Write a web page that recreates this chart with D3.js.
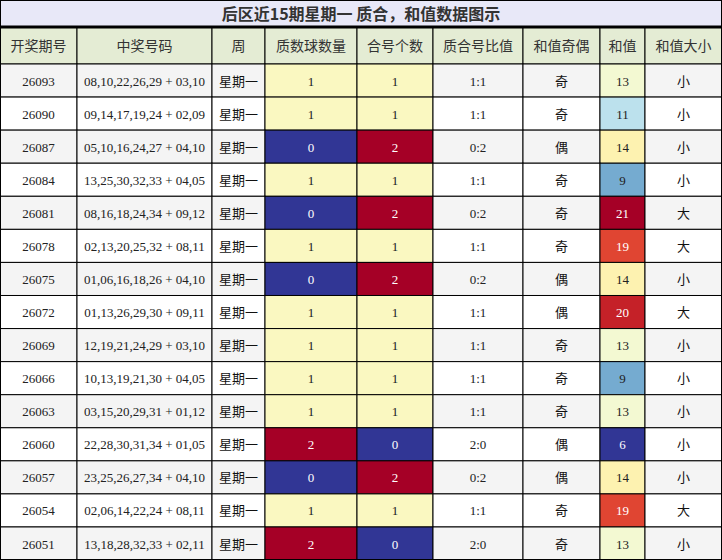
<!DOCTYPE html>
<html><head><meta charset="utf-8">
<script src="https://cdn.jsdelivr.net/npm/d3@7"></script>
<style>body{margin:0;background:#fff}</style>
</head><body><svg id="chart" width="722" height="560"></svg>
<script>
const title = "后区近15期星期一 质合，和值数据图示"
const headers = ["开奖期号","中奖号码","周","质数球数量","合号个数","质合号比值","和值奇偶","和值","和值大小"]
const issues = ["26093","26090","26087","26084","26081","26078","26075","26072","26069","26066","26063","26060","26057","26054","26051"]
const numbers = ["08,10,22,26,29 + 03,10","09,14,17,19,24 + 02,09","05,10,16,24,27 + 04,10","13,25,30,32,33 + 04,05","08,16,18,24,34 + 09,12","02,13,20,25,32 + 08,11","01,06,16,18,26 + 04,10","01,13,26,29,30 + 09,11","12,19,21,24,29 + 03,10","10,13,19,21,30 + 04,05","03,15,20,29,31 + 01,12","22,28,30,31,34 + 01,05","23,25,26,27,34 + 04,10","02,06,14,22,24 + 08,11","13,18,28,32,33 + 02,11"]
const primes = [1,1,0,1,0,1,0,1,1,1,1,2,0,1,2]
const composites = [1,1,2,1,2,1,2,1,1,1,1,0,2,1,0]
const parity = ["奇","奇","偶","奇","奇","奇","偶","偶","奇","奇","奇","偶","偶","奇","奇"]
const sums = [13,11,14,9,21,19,14,20,13,9,13,6,14,19,13]
const sizes = ["小","小","小","小","大","大","小","大","小","小","小","小","小","大","小"]

const svg = d3.select('#chart')
const colEdges = [0,77,212,265,357,433,523,600,645,722]
const headTop = 27, headH = 37, rowH = 33.07
const serif = "'Liberation Serif','DejaVu Serif',serif"
const sans = "'Noto Sans CJK SC','Noto Sans',sans-serif"
const heat = t => d3.interpolateRdYlBu(1 - t)
const cntColor = d3.scaleSequential(heat).domain([0,2])
const sumColor = d3.scaleSequential(heat).domain([6,21])
const y = d3.scaleLinear().domain([0,15]).range([headTop+headH, headTop+headH+15*rowH])

// title
svg.append('rect').attr('x',0).attr('y',0).attr('width',722).attr('height',headTop).attr('fill','#e8e8f8')
svg.append('text').attr('x',361).attr('y',20).attr('text-anchor','middle')
  .attr('font-family',sans).attr('font-weight','bold').attr('font-size',16).attr('fill','#333').text(title)

// header
headers.forEach((h,i) => {
  svg.append('rect').attr('x',colEdges[i]).attr('y',headTop).attr('width',colEdges[i+1]-colEdges[i]).attr('height',headH)
    .attr('fill','#e4ecd4').attr('stroke','#000')
  svg.append('text').attr('x',(colEdges[i]+colEdges[i+1])/2).attr('y',headTop+headH/2+5).attr('text-anchor','middle')
    .attr('font-family',sans).attr('font-size',14).attr('fill','#333').text(h)
})

function cell(r, c, txt, fill, font, size, color) {
  const x0 = colEdges[c], x1 = colEdges[c+1]
  svg.append('rect').attr('x',x0).attr('y',y(r)).attr('width',x1-x0).attr('height',rowH)
    .attr('fill',fill).attr('stroke','#000')
  svg.append('text').attr('x',(x0+x1)/2).attr('y',y(r)+rowH/2+5).attr('text-anchor','middle')
    .attr('font-family',font).attr('font-size',size).attr('fill',color).text(txt)
}
const ink = c => d3.lab(c).l < 55 ? '#fff' : '#222'

issues.forEach((iss,r) => {
  const bg = r % 2 === 0 ? '#f4f4f4' : '#fff'
  cell(r,0,iss,bg,serif,13,'#222')
  cell(r,1,numbers[r],bg,serif,13,'#222')
  cell(r,2,'星期一',bg,sans,13,'#111')
  const pc = cntColor(primes[r]); cell(r,3,primes[r],pc,serif,13,ink(pc))
  const cc = cntColor(composites[r]); cell(r,4,composites[r],cc,serif,13,ink(cc))
  cell(r,5,primes[r]+':'+composites[r],bg,serif,13,'#222')
  cell(r,6,parity[r],bg,sans,13,'#111')
  const sc = sumColor(sums[r]); cell(r,7,sums[r],sc,serif,13,ink(sc))
  cell(r,8,sizes[r],bg,sans,13,'#111')
})
svg.append('line').attr('x1',0).attr('x2',722).attr('y1',headTop).attr('y2',headTop).attr('stroke','#000').attr('stroke-width',3)
svg.append('rect').attr('x',0.5).attr('y',0.5).attr('width',721).attr('height',559).attr('fill','none').attr('stroke','#000')
</script></body></html>
